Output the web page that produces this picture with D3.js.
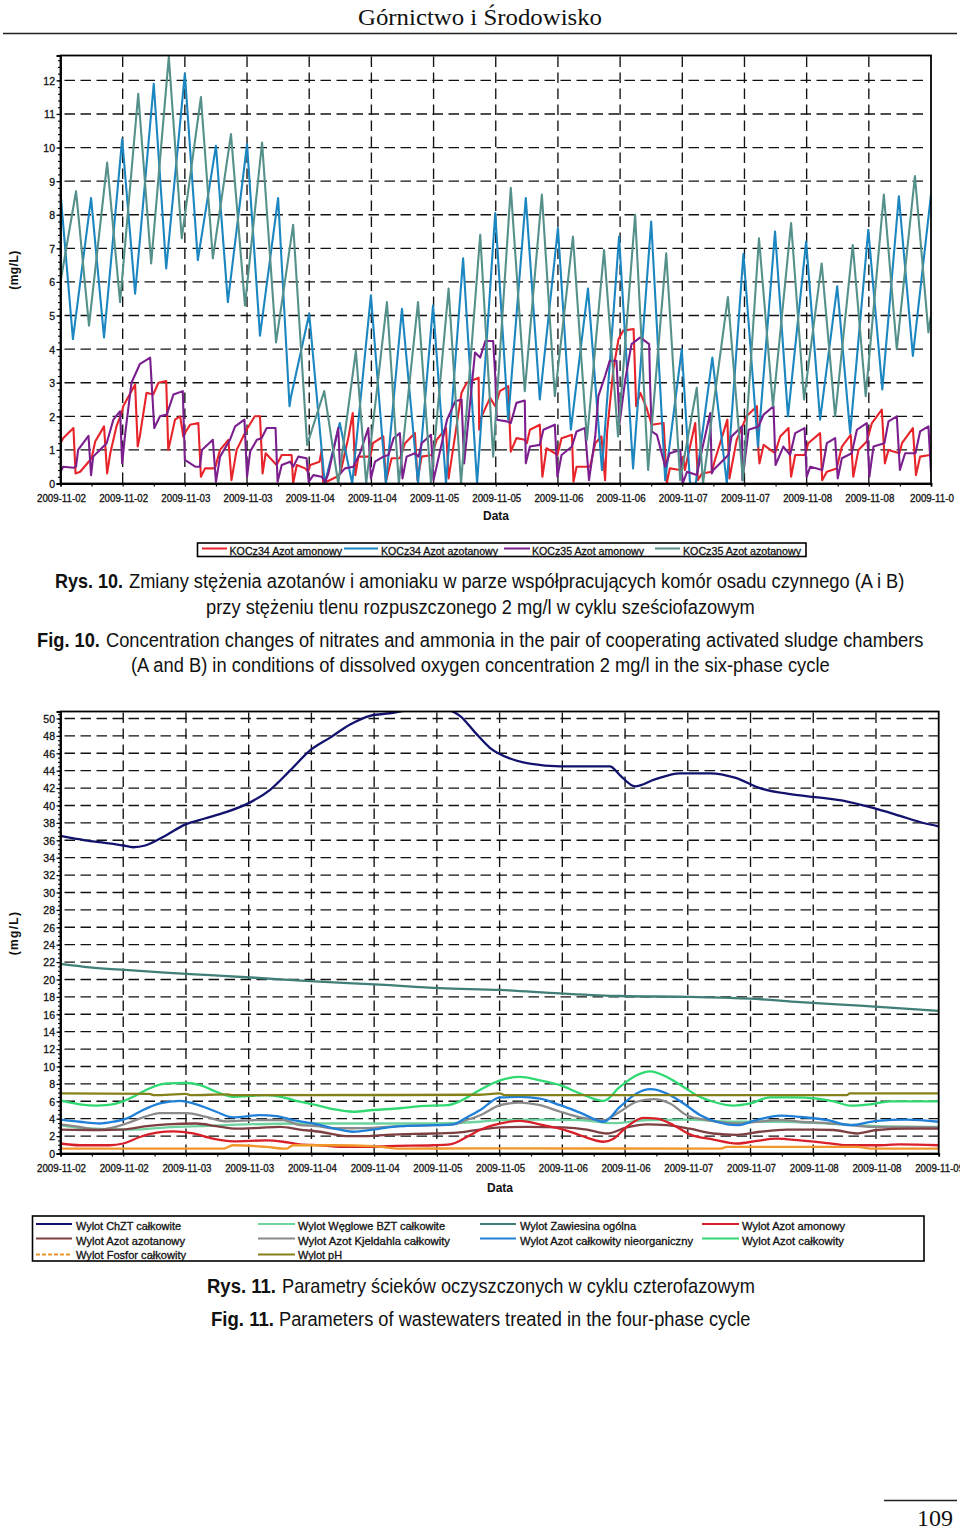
<!DOCTYPE html>
<html><head><meta charset="utf-8">
<script src="https://cdn.jsdelivr.net/npm/d3@7"></script>
<style>html,body{margin:0;padding:0;background:#fff}svg{display:block}
text{font-family:"Liberation Sans",Arial,sans-serif;fill:#111}</style></head><body><script>
// ---- top chart data: hours since start, mg/L ----
const dateLabels1=["2009-11-02","2009-11-02","2009-11-03","2009-11-03","2009-11-04","2009-11-04","2009-11-05","2009-11-05","2009-11-06","2009-11-06","2009-11-07","2009-11-07","2009-11-08","2009-11-08","2009-11-0"];
const dateLabels2=["2009-11-02","2009-11-02","2009-11-03","2009-11-03","2009-11-04","2009-11-04","2009-11-05","2009-11-05","2009-11-06","2009-11-06","2009-11-07","2009-11-07","2009-11-08","2009-11-08","2009-11-09"];
const k34amT=[0,.5,2.5,2.9,3.8,6,6.7,8.4,9,9.6,10.8,11.8,12.1,14.4,14.9,15.3,16.6,17.9,18.9,20.4,20.8,22.1,23.1,23.7,24,25,26.6,27.1,27.9,29.8,30.8,32.4,33,34,35.9,37.5,38.5,39,39.6,41.7,42.7,44.6,44.9,45.6,47.2,47.8,48.2,50,50.4,50.7,53.3,54,55.6,56.4,56.9,57.5,59.8,60.3,62.3,62.8,63.9,65.5,66.5,68.4,68.9,69.7,71.7,72.6,74.4,74.9,77.4,78.4,80.7,80.8,81,82.9,83.9,84.8,86.4,86.9,88,89.6,90,90.6,92.5,93,93.8,95.4,95.9,96.7,98.7,99,99.6,102.2,103.2,104.4,105.1,105.5,106.7,107.7,108.6,110.6,111.1,111.9,113.1,114.1,116.4,117,117.6,119.6,120.2,120.5,121.2,122.5,123,123.8,125.7,126.3,128.7,129.1,130.5,132.4,134.4,134.7,134.9,135.7,137.9,138.9,140.5,141,141.8,143.7,144.3,146.6,147,147.9,149.8,150.8,152.5,153,154,155.6,156.6,158.5,159.1,159.8,161.9,162.4,164.5,165.1,165.9,167.8,168];
const k34amV=[1.2,1.35,1.65,.3,.35,.75,1.25,1.7,.3,.9,1.7,2.1,2.3,2.95,1.1,1.4,2.7,2.65,3,3.05,1,1.9,2,1.4,1.5,1.75,1.8,.2,.45,.45,1,1.3,.1,1,1.6,2,2,.3,.9,.55,.85,.85,0,.55,.45,.35,.55,.65,1,0,.2,.3,1.4,2.1,.25,.8,.8,1.2,1.4,.05,.75,.75,1.2,1.5,.1,.8,.85,1.3,1.65,.15,2.7,3,3.15,1.6,1.9,2.55,2.3,2.75,2.9,.95,1.35,1.3,1.2,1.6,1.75,.2,1.05,.9,.85,1.35,1.45,.05,.5,.5,1.2,1.4,.1,1.55,3.4,4.3,4.55,4.6,2.3,2.7,2.25,1.75,1.8,0,.45,.4,.8,.4,.9,1.8,.1,.3,.35,.7,1.9,.15,1.3,2,2.3,.95,.6,1.15,.9,1.4,1.65,.2,.85,.85,1.2,1.5,.1,.35,.45,1.1,1.45,.2,1,1.25,1.8,2.2,.6,1,.9,1.2,1.65,.25,.8,.85,.85];
const k34noT=[0,2.4,5.9,8.4,11.9,14.4,18,20.4,24,26.5,30,32.3,36,38.5,42,44.2,44.5,48,51,53.9,56.3,59.9,62.8,65.9,69,71.9,74.4,77.7,80.4,83.9,86.4,89.8,92.5,96,98.5,101.8,104.5,107.8,110.5,114,116.7,119.9,121.5,122.6,125.8,128.6,131.8,134.6,137.9,140.4,143.9,146.6,149.9,152.4,155.9,158.6,161.8,164.5,168];
const k34noV=[8.65,4.3,8.5,4.35,10.25,5.65,11.9,6.4,12.2,6.65,10.05,5.4,10.1,4.4,8.5,2.3,2.6,5.05,0,1.8,0,5.6,0,5.2,0,5.3,0,6.7,0,8.05,1.9,8.5,2.5,7.6,1.6,5.8,.4,7.35,.45,7.8,.1,4,0,0,3.75,0,6.84,1.1,7.5,2,7.2,1.9,5.87,1.5,7.55,2.8,8.55,3.8,8.6];
const k35amT=[0,.5,2.5,3,3.4,5.4,5.9,6.3,7.6,8.9,10.2,11.5,11.9,12.5,13.7,15.3,17.3,18.1,19.2,20.5,21.8,23.6,24,26,26.9,27.3,29.4,30,30.8,32.7,33.7,35.5,36,36.6,37.9,38.8,39.8,41.5,41.9,42.7,44.3,44.9,45.9,47.5,47.9,48.8,50.4,51.1,51.7,53.6,54,54.9,56.5,57.8,59.4,59.9,60.7,62.3,63.3,64.3,65.5,66,66.8,68.4,69.1,69.7,71.5,72,74.6,76.2,77.4,77.9,80,81,82,83.5,83.9,84.2,86.1,86.9,88,89.6,89.8,90.6,92.5,93.2,95.4,95.9,96.7,98.7,99.6,101.2,102,103.2,103.8,105.1,106,107.3,107.9,109,110.2,111.9,113.6,113.8,114.1,115.1,116.7,117.6,119.6,120.1,120.9,122.8,123.8,125.4,125.7,126,128.9,129.5,131.5,131.6,132.8,134.7,135.7,137.6,138,139.5,140.8,141.8,143.6,144,144.7,147,147.9,149.5,150,150.8,152.7,153.7,155.6,156.1,156.9,159,159.8,161.4,162,163,165,165.9,167.5,168];
const k35amV=[.35,.5,.47,.5,1,1.42,.25,.8,1,1.2,1.9,2.15,.6,1.5,3,3.55,3.75,1.65,2,2.05,2.65,2.75,.7,.5,.5,1,1.3,.05,.8,1.3,1.7,1.9,.2,.95,1.3,1.35,1.65,1.65,.05,.55,.65,.5,.8,.75,.05,.25,.2,.05,.3,1.65,.3,.45,.5,.9,1.65,.15,.65,.8,.85,1.35,1.5,.15,.8,.9,.8,1.2,1.45,.1,1.9,2.45,2.5,.6,3.9,3.75,4.24,4.24,3.2,1.9,1.85,1.8,2.4,2.47,.6,1.1,1.15,1.6,1.75,.2,.85,1.1,1.55,1.65,.1,1.4,2.6,3.2,3.65,3.65,1.8,3.1,4.15,4.35,4.15,2.9,1.55,1.45,.5,.9,1,0,.35,.25,1,2.1,.3,.4,.85,1.4,1.7,.1,1.6,1.7,2.05,2.3,.55,1.1,.85,1.5,1.65,.2,.5,.4,1.2,1.35,.15,.75,.9,1.6,1.8,.2,1.1,1.2,1.85,2,.4,.9,.9,1.55,1.7,.35];
const k35noT=[0,3,5.5,9,11.5,15,17.5,20.9,23.4,27.1,29.4,32.9,35.6,38.9,41.6,44.9,47.6,50.9,53.6,57,59,63,65.3,69,71.5,74.9,77.3,81,83.5,86.9,89.6,92.9,95.4,98.9,101.6,104.9,107.6,110.9,113.4,116.9,119.6,122.8,124,128.8,131.7,134.8,137.5,141,143.5,146.9,149.5,152.9,155.4,158.9,161.4,164.9,167.5,168];
const k35noV=[6,8.7,4.7,9.55,5.4,11.6,6.55,12.7,7.3,11.5,6.7,10.4,5.3,10.15,4.2,7.7,1.15,2.75,0,3.95,0,5.4,0,5.4,0,5.8,0,7.4,.8,8.8,2.75,8.6,2.6,7.35,1.3,6.95,1.4,8,.4,6.85,.1,2.85,0,5.55,.1,7.3,2.3,7.75,2.5,6.55,2,7.1,2.6,8.6,4,9.15,4.5,5];
// ---- bottom chart data ----
const chztT=[0,4.7,8.5,12,13.9,16.2,20,23.8,27.6,31.5,36.1,40.1,43.9,47.7,51.6,55.4,59.2,63,67.4,73.6,76.4,79.3,82.2,86,89.8,95.6,101.3,105.1,107,109.9,113.7,118.5,124.3,129,133.8,139.6,145.3,150.1,154.9,160.6,164.4,168];
const chztV=[36.5,36,35.7,35.4,35.2,35.4,36.5,37.8,38.5,39.2,40.3,41.8,44,46.3,47.8,49.3,50.3,50.6,51,51,50.3,48.4,46.6,45.4,44.8,44.5,44.5,44.5,43.5,42.2,43,43.7,43.7,43.2,42,41.3,40.9,40.5,39.8,38.8,38.1,37.6];
const zawT=[0,5.6,12.3,20,28.6,37.2,47.7,61.1,72.6,84.1,95.6,107,120.4,131.9,141.5,152.9,168];
const zawV=[21.8,21.4,21.1,20.8,20.5,20.2,19.8,19.4,19,18.8,18.4,18.1,18,17.8,17.4,17,16.4];
const bztT=[0,4.3,13.9,20.3,26.7,45.8,52.2,71.3,80.3,84.1,91.7,99.4,105.8,112.2,119.8,128.7,137.7,146.6,156.2,168];
const bztV=[3.25,2.9,2.75,3,3.15,3.45,3.45,3.45,3.65,3.85,3.9,3.85,3.5,3.85,3.9,3.65,3.65,3.45,3.15,3.05];
const amT=[0,3.7,9.4,12,15.2,18.4,21.6,25.4,29.2,33,39.4,42.6,45.8,49.6,54.7,59.2,62.4,71.3,74.5,77.7,80.2,82.8,87.9,92.4,96.2,99.4,103.9,105.8,108.3,111.5,114.1,117.3,120.4,124.9,129.4,133.2,137,141.5,146.6,150.4,156.2,160.6,168];
const amV=[1.15,.95,.95,1.15,1.9,2.4,2.55,2.3,1.7,1.4,1.5,1.35,1.05,.95,.75,.75,.85,.95,1.05,1.9,2.7,3.25,3.75,3.25,2.75,2.1,1.35,1.7,3.05,4.1,4,3.25,2.2,1.6,1.15,1.45,1.7,1.5,1.2,.95,.95,1.05,.95];
const noT=[0,7.5,12,16.5,20.3,26,29.8,33.7,38.1,42,45.8,49.6,54.7,58.5,62.4,71.3,75.8,80.2,84.1,89.2,96.2,100.7,104.5,108.3,112.2,116,120.4,124.9,129.4,133.8,139,144,147.9,152.3,156.2,161.9,168];
const noV=[2.75,2.7,2.75,3.15,3.35,3.45,3.15,2.85,2.95,3.05,2.75,2.5,2,2,2.15,2.3,2.4,2.75,3,3.05,3,2.75,2.3,3,3.35,3.25,2.85,2.3,2.15,2.5,2.75,2.75,2.7,2.3,2.7,2.85,2.85];
const tknT=[0,3.7,7.5,10.1,12.6,15.8,19,24.1,27.9,31.8,38.1,42.6,45.8,49,52.2,56,59.8,64.9,71.3,75.1,77.7,80.3,84.1,87.9,91.7,95.6,99.4,103.9,107,110.2,113.4,116.6,119.8,123.6,129.4,133.2,137.7,141.5,146.6,151.1,156.2,161.9,168];
const tknV=[3.35,3.05,2.75,3,3.45,4.15,4.65,4.65,4.2,3.7,3.85,3.85,3.25,3.15,2.9,2.9,2.95,3.15,3.25,3.35,3.85,4.4,5.55,5.85,5.55,4.8,4.15,3.85,4.8,5.95,6.25,5.75,4.4,3.85,3.45,3.65,3.85,3.65,3.5,3.25,3.05,3.05,3];
const tinT=[0,3.7,7.5,10.1,12.6,15.8,19,22.8,26,29.8,33,38.1,41.3,44.5,48.3,52.2,56,59.8,64.9,71.3,75.1,77.7,80.3,84.1,87.9,91.7,95.6,99.4,103.9,107,110.2,112.8,116,119.2,122.4,125.5,129.4,133.2,137.7,141.5,146.6,151.1,156.2,161.9,168];
const tinV=[3.9,3.65,3.45,3.65,4,5,5.75,6.05,5.65,4.8,4.15,4.4,4.3,3.85,3.45,2.9,2.5,2.75,3.15,3.25,3.35,4.15,5,6.45,6.5,6.3,5.55,4.7,3.65,5.35,6.9,7.4,6.9,5.75,4.4,3.65,3.25,3.85,4.35,4.2,3.85,3.25,3.75,3.9,3.65];
const tnT=[0,3.7,6.9,8.8,12,14.5,17.1,20.3,24.1,26.7,29.8,33,35.6,39.4,42.6,45.8,49,52.2,56,59.8,64.9,68.8,73.9,76.4,80.2,84.1,87.9,91.7,95.6,99.4,103.9,107,110.2,112.8,116,119.2,121.7,124.9,128.7,131.9,135.7,140.2,144.7,147.9,151.1,154.9,158.7,168];
const tnV=[6.1,5.65,5.5,5.55,6,6.7,7.5,8.05,8.1,7.85,7.1,6.5,6.6,6.7,6.45,5.95,5.55,5.1,4.8,5,5.2,5.45,5.55,6,7.3,8.4,8.8,8.4,7.85,6.9,6.05,7.65,9,9.45,8.8,7.65,6.7,5.95,5.5,5.75,6.45,6.45,6.3,6,5.5,5.65,6,6];
const tpT=[0,31.1,33,39.4,43.2,44.5,52.2,59.8,64.9,80.2,126.2,127.5,152.3,155.5,168];
const tpV=[.55,.55,.95,.75,.55,.95,.95,.85,.55,.6,.55,.75,.75,.55,.55];
const phT=[0,17,18,24,25,32,33,80,84,85,150.4,151,168];
const phV=[6.9,6.85,6.7,6.85,6.7,6.8,6.7,6.75,6.9,6.7,6.7,6.9,6.9];

const W=960,H=1530;
const svg=d3.select("body").append("svg").attr("width",W).attr("height",H);
const S=(col,name,t,v,dash)=>({col,name,data:t.map((h,i)=>[h,v[i]]),dash});
const series1=[S("#e6242a","KOCz34 Azot amonowy",k34amT,k34amV),S("#1b86c0","KOCz34 Azot azotanowy",k34noT,k34noV),S("#7b1f8e","KOCz35 Azot amonowy",k35amT,k35amV),S("#55918a","KOCz35 Azot azotanowy",k35noT,k35noV)];
const series2=[S("#12126e","Wylot ChZT całkowite",chztT,chztV),S("#6fd3a0","Wylot Węglowe BZT całkowite",bztT,bztV),S("#3f7f78","Wylot Zawiesina ogólna",zawT,zawV),S("#d8202a","Wylot Azot amonowy",amT,amV),S("#7d3f42","Wylot Azot azotanowy",noT,noV),S("#8a8a8a","Wylot Azot Kjeldahla całkowity",tknT,tknV),S("#2080d8","Wylot Azot całkowity nieorganiczny",tinT,tinV),S("#2fd870","Wylot Azot całkowity",tnT,tnV),S("#f0962a","Wylot Fosfor całkowity",tpT,tpV,"4 2"),S("#85801a","Wylot pH",phT,phV)];
const plotOrder2=[0,2,1,5,4,3,6,7,9,8];

function chart(o){
 const x=d3.scaleLinear().domain([0,168]).range([o.x0,o.x1]);
 const y=d3.scaleLinear().domain([0,o.ymax]).range([o.y0,o.yt]);
 const g=svg.append("g");
 const id="clip"+o.id;
 g.append("clipPath").attr("id",id).append("rect").attr("x",o.x0).attr("y",o.yt).attr("width",o.x1-o.x0).attr("height",o.y0-o.yt);
 const grid=g.append("g").attr("stroke","#111").attr("stroke-width",1.35).attr("stroke-dasharray","10.5,5.5");
 o.yTicks.filter(v=>v>0).forEach(v=>grid.append("line").attr("x1",o.x0+4).attr("x2",o.gridEnd).attr("y1",y(v)).attr("y2",y(v)));
 const hMajor=d3.range(12,168,12);
 hMajor.forEach(h=>grid.append("line").attr("x1",x(h)).attr("x2",x(h)).attr("y1",o.yt+1).attr("y2",o.y0));
 const line=d3.line().x(d=>x(d[0])).y(d=>y(d[1])).curve(o.curve);
 const lg=g.append("g").attr("clip-path",`url(#${id})`);
 o.series.forEach(s=>lg.append("path").attr("d",line(s.data)).attr("fill","none").attr("stroke",s.col).attr("stroke-width",o.lw).attr("stroke-linejoin","round"));
 g.append("rect").attr("x",o.x0).attr("y",o.yt).attr("width",o.x1-o.x0).attr("height",o.y0-o.yt).attr("fill","none").attr("stroke","#000").attr("stroke-width",1.8);
 // y axis
 const ya=d3.axisLeft(y).tickValues(o.yTicks).tickSize(4).tickPadding(1.5).tickFormat(d3.format("d"));
 const yg=g.append("g").attr("transform",`translate(${o.x0},0)`).call(ya);
 yg.select(".domain").attr("stroke-width",1.8);
 yg.selectAll("line").attr("stroke","#000").attr("stroke-width",1.2);
 yg.selectAll("text").attr("font-size",10.5).attr("dy","0.37em").attr("stroke","#111").attr("stroke-width",.3).style("font-family",'"Liberation Sans"');
 const ym=d3.axisLeft(y).tickValues(o.yMinor).tickSize(2.5).tickFormat("");
 const ymg=g.append("g").attr("transform",`translate(${o.x0},0)`).call(ym);
 ymg.select(".domain").remove(); ymg.selectAll("line").attr("stroke","#000").attr("stroke-width",1.1);
 // x axis
 const xa=d3.axisBottom(x).tickValues(d3.range(0,169,6)).tickSize(3).tickFormat("");
 const xg=g.append("g").attr("transform",`translate(0,${o.y0})`).call(xa);
 xg.select(".domain").attr("stroke-width",1.8); xg.selectAll("line").attr("stroke","#000").attr("stroke-width",1.2);
 o.labels.forEach((t,i)=>{
  const el=g.append("text").attr("x",x(i*12)+1).attr("y",o.y0+o.labDy).attr("text-anchor","middle").attr("font-size",10.5).attr("stroke","#111").attr("stroke-width",.3).text(t);
  el.attr("textLength",t.length===10?49:44).attr("lengthAdjust","spacingAndGlyphs");
 });
 g.append("text").attr("x",o.dataX).attr("y",o.dataY).attr("text-anchor","middle").attr("font-size",12).attr("font-weight","bold").text("Data");
 g.append("text").attr("transform",`translate(18,${o.unitY}) rotate(-90)`).attr("text-anchor","middle").attr("font-size",12).attr("font-weight","bold").attr("letter-spacing",o.unitSp).text("(mg/L)");
}
const tick1=d3.range(0,13), minor1=d3.range(0,12.8,.2).map(v=>+v.toFixed(1));
const tick2=d3.range(0,51,2), minor2=d3.range(0,50.9,.5);
chart({id:1,x0:60.5,x1:931,y0:483.5,yt:55.5,ymax:12.74,yTicks:tick1,yMinor:minor1,series:series1,lw:2.1,curve:d3.curveLinear,labels:dateLabels1,labDy:18,gridEnd:925,dataX:496,dataY:520,unitY:270,unitSp:.5});
chart({id:2,x0:60.5,x1:938.7,y0:1153.5,yt:711.5,ymax:50.8,yTicks:tick2,yMinor:minor2,series:plotOrder2.map(i=>series2[i]),lw:2.3,curve:d3.curveMonotoneX,labels:dateLabels2,labDy:18,gridEnd:938,dataX:500,dataY:1192,unitY:933,unitSp:1.3});

// legends
function legRow(s,lx0,lx1,tx,ty,ly,tw){
 svg.append("line").attr("x1",lx0).attr("x2",lx1).attr("y1",ly).attr("y2",ly).attr("stroke",s.col).attr("stroke-width",2).attr("stroke-dasharray",s.dash||null);
 svg.append("text").attr("x",tx).attr("y",ty).attr("font-size",10.5).attr("stroke","#111").attr("stroke-width",.3).attr("textLength",tw).attr("lengthAdjust","spacingAndGlyphs").text(s.name);
}
svg.append("rect").attr("x",197.5).attr("y",543).attr("width",608.5).attr("height",13.5).attr("fill","none").attr("stroke","#000").attr("stroke-width",1.6);
[[202,227,229.5,112.5],[344,378,381,117],[504,530,532,112],[655,680,683,118]].forEach((p,i)=>legRow(series1[i],p[0],p[1],p[2],555,548.5,p[3]));
svg.append("rect").attr("x",32.5).attr("y",1216).attr("width",891.5).attr("height",45).attr("fill","none").attr("stroke","#000").attr("stroke-width",1.6);
const colX=[[36,72,76],[258,295,298],[480,516,520],[702,739,742]];
const rowY=[[1230,1224],[1245,1238.5],[1259,1254.5]];
const legW2=[105,147,116,103,109,152,173,102,110,44];
series2.forEach((s,i)=>{const c=colX[i%4],r=rowY[Math.floor(i/4)];legRow(s,c[0],c[1],c[2],r[0],r[1],legW2[i]);});

// captions: [text, x, baseline, width]
const capBold=[["Rys. 10.",55,588,68],["Fig. 10.",37,647,63],["Rys. 11.",207,1293,69],["Fig. 11.",211,1326,63]];
const capPlain=[["Zmiany stężenia azotanów i amoniaku w parze współpracujących komór osadu czynnego (A i B)",129,588,776],
["przy stężeniu tlenu rozpuszczonego 2 mg/l w cyklu sześciofazowym",206,614,549],
["Concentration changes of nitrates and ammonia in the pair of cooperating activated sludge chambers",106,647,818],
["(A and B) in conditions of dissolved oxygen concentration 2 mg/l in the six-phase cycle",131,672,699],
["Parametry ścieków oczyszczonych w cyklu czterofazowym",282,1293,473],
["Parameters of wastewaters treated in the four-phase cycle",279,1326,472]];
const cap=(c,b)=>{
 const t=svg.append("text").attr("font-size",21).attr("font-weight",b?"bold":null).text(c[0]);
 const sx=c[3]/t.node().getComputedTextLength();
 t.attr("transform",`translate(${c[1]},${c[2]}) scale(${sx},1)`);
};
capBold.forEach(c=>cap(c,true)); capPlain.forEach(c=>cap(c,false));
// header / footer
svg.append("text").attr("x",358).attr("y",25).attr("font-size",24).attr("textLength",244).attr("lengthAdjust","spacingAndGlyphs").style("font-family",'"Liberation Serif"').text("Górnictwo i Środowisko");
svg.append("line").attr("x1",3).attr("x2",957).attr("y1",33.5).attr("y2",33.5).attr("stroke","#222").attr("stroke-width",1.6);
svg.append("line").attr("x1",884).attr("x2",957).attr("y1",1500.5).attr("y2",1500.5).attr("stroke","#222").attr("stroke-width",1.4);
svg.append("text").attr("x",935).attr("y",1526).attr("text-anchor","middle").attr("font-size",24).style("font-family",'"Liberation Serif"').text("109");
</script></body></html>
